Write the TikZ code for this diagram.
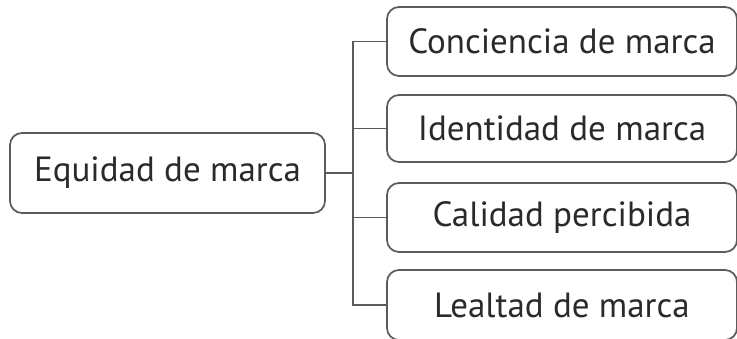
\documentclass[tikz,border=0pt]{standalone}
\usepackage{fontspec}
\setmainfont{PT Sans}
\definecolor{linegray}{HTML}{5A5A5A}
\definecolor{textgray}{HTML}{2A2A2A}
\begin{document}
\begin{tikzpicture}[x=1pt,y=1pt,
  box/.style={draw=linegray, line width=1.7pt, rounded corners=12pt,
    fill=white, text=textgray, font=\fontsize{35}{38}\selectfont, inner sep=0pt},
  link/.style={draw=linegray, line width=1.7pt}]
  \useasboundingbox (0,0) rectangle (737,338);
  \clip (0,0) rectangle (737,338);
  % root node
  \node[box, minimum width=315pt, minimum height=80pt] (L) at (167.5,165) {Equidad de marca};
  % branch nodes (right edge sits on the page edge)
  \node[box, minimum width=350pt, minimum height=69pt] (A) at (562,296.5) {Conciencia de marca};
  \node[box, minimum width=350pt, minimum height=67pt] (B) at (562,209.5) {Identidad de marca};
  \node[box, minimum width=350pt, minimum height=69pt] (C) at (562,120.5) {Calidad percibida};
  \node[box, minimum width=350pt, minimum height=70pt] (D) at (562,33) {Lealtad de marca};
  % vertical bus
  \coordinate (bus) at (353,0);
  \draw[link] (L.east) -- (L.east -| bus);
  \draw[link] (A.west) -- (A.west -| bus) -- (D.west -| bus) -- (D.west);
  \draw[link] (B.west) -- (B.west -| bus);
  \draw[link] (C.west) -- (C.west -| bus);
\end{tikzpicture}
\end{document}
